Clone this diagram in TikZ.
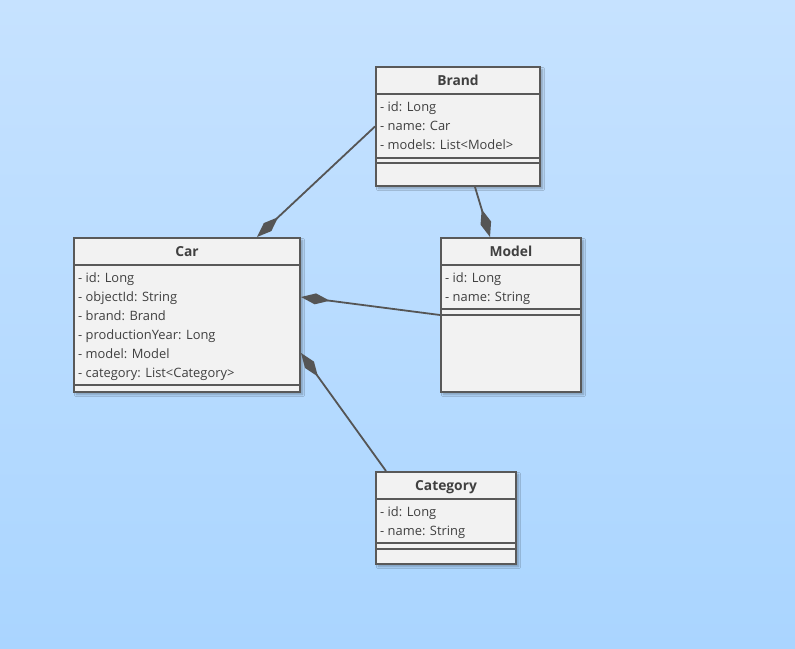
\documentclass[tikz,border=0pt]{standalone}
\usepackage{fontspec}
\setmainfont{Open Sans}
\usetikzlibrary{arrows.meta,shadows.blur}

\definecolor{bgtop}{HTML}{C6E2FF}
\definecolor{bgbottom}{HTML}{AAD5FF}
\definecolor{boxfill}{HTML}{F2F2F2}
\definecolor{boxline}{HTML}{595959}
\definecolor{ink}{HTML}{404040}
\definecolor{wire}{HTML}{555555}

\tikzset{
  classbox/.style={draw=boxline, fill=boxfill, line width=2pt, inner sep=0pt,
    blur shadow={shadow xshift=2.5pt, shadow yshift=-2.5pt, shadow blur steps=6, shadow opacity=30}},
  rule/.style={draw=boxline, line width=2pt},
  title/.style={font=\fontsize{13.8}{16}\selectfont\bfseries, text=ink, inner sep=0pt, anchor=base},
  attr/.style={font=\fontsize{12.9}{15}\selectfont, text=ink, inner sep=0pt, anchor=base west},
  compose/.style={draw=wire, line width=1.8pt,
    -{Diamond[length=29pt,width=11pt,fill=wire]}},
}

\begin{document}
\begin{tikzpicture}[x=1pt,y=-1pt]
  % background
  \shade[top color=bgtop, bottom color=bgbottom] (0,0) rectangle (795,648);
  \useasboundingbox (0,0) rectangle (795,648);

  % ---- Brand ----
  \node[classbox, minimum width=164pt, minimum height=119pt] (brand) at (458,126.5) {};
  \node[title] (brandT) at ([shift={(0,19)}]brand.north) {Brand};
  \draw[rule] ([shift={(0,28)}]brand.north west) -- ([shift={(0,28)}]brand.north east);
  \node[attr] (brandA1) at ([shift={(5,45.8)}]brand.north west) {- id: Long};
  \node[attr] (brandA2) at ([shift={(5,64.8)}]brand.north west) {- name: Car};
  \node[attr] (brandA3) at ([shift={(5,83.8)}]brand.north west) {- models: List<Model>};
  \draw[rule] ([shift={(0,92)}]brand.north west) -- ([shift={(0,92)}]brand.north east);
  \draw[rule] ([shift={(0,97)}]brand.north west) -- ([shift={(0,97)}]brand.north east);

  % ---- Car ----
  \node[classbox, minimum width=226pt, minimum height=154pt] (car) at (187,315) {};
  \node[title] (carT) at ([shift={(0,19)}]car.north) {Car};
  \draw[rule] ([shift={(0,28)}]car.north west) -- ([shift={(0,28)}]car.north east);
  \node[attr] (carA1) at ([shift={(5,45.8)}]car.north west) {- id: Long};
  \node[attr] (carA2) at ([shift={(5,64.8)}]car.north west) {- objectId: String};
  \node[attr] (carA3) at ([shift={(5,83.8)}]car.north west) {- brand: Brand};
  \node[attr] (carA4) at ([shift={(5,102.8)}]car.north west) {- productionYear: Long};
  \node[attr] (carA5) at ([shift={(5,121.8)}]car.north west) {- model: Model};
  \node[attr] (carA6) at ([shift={(5,140.8)}]car.north west) {- category: List<Category>};
  \draw[rule] ([shift={(0,148)}]car.north west) -- ([shift={(0,148)}]car.north east);

  % ---- Model ----
  \node[classbox, minimum width=140pt, minimum height=154pt] (model) at (511,315) {};
  \node[title] (modelT) at ([shift={(0,19)}]model.north) {Model};
  \draw[rule] ([shift={(0,28)}]model.north west) -- ([shift={(0,28)}]model.north east);
  \node[attr] (modelA1) at ([shift={(5,45.8)}]model.north west) {- id: Long};
  \node[attr] (modelA2) at ([shift={(5,64.8)}]model.north west) {- name: String};
  \draw[rule] ([shift={(0,72)}]model.north west) -- ([shift={(0,72)}]model.north east);
  \draw[rule] ([shift={(0,78)}]model.north west) -- ([shift={(0,78)}]model.north east);

  % ---- Category ----
  \node[classbox, minimum width=140pt, minimum height=92pt] (category) at (446,518) {};
  \node[title] (categoryT) at ([shift={(0,19)}]category.north) {Category};
  \draw[rule] ([shift={(0,28)}]category.north west) -- ([shift={(0,28)}]category.north east);
  \node[attr] (categoryA1) at ([shift={(5,45.8)}]category.north west) {- id: Long};
  \node[attr] (categoryA2) at ([shift={(5,64.8)}]category.north west) {- name: String};
  \draw[rule] ([shift={(0,72)}]category.north west) -- ([shift={(0,72)}]category.north east);
  \draw[rule] ([shift={(0,78)}]category.north west) -- ([shift={(0,78)}]category.north east);

  % ---- compositions ----
  \draw[compose] (brand.west) -- ([xshift=70pt]car.north);
  \draw[compose] ([xshift=17pt]brand.south) -- ([xshift=-21pt]model.north);
  \draw[compose] (model.west) -- ([yshift=18pt]car.east);
  \draw[compose] ([xshift=-60pt]category.north) -- ([yshift=-38pt]car.east);
\end{tikzpicture}
\end{document}
